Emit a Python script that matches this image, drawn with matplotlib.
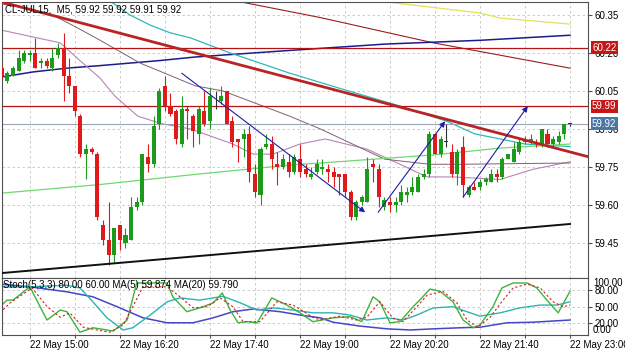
import matplotlib
matplotlib.use('Agg')
import matplotlib.pyplot as plt
from matplotlib import transforms

plt.rcParams['font.family'] = ['Liberation Sans', 'DejaVu Sans']
plt.rcParams['font.size'] = 7

symbol_title = 'CL-JUL15,  M5, 59.92 59.92 59.91 59.92'
stoch_title = 'Stoch(5,3,3) 80.00 60.00 MA(5) 59.874 MA(20) 59.790'

# M5 bars from 22 May 14:35 to 23:00 (index 0..101)
opens = [60.14, 60.09, 60.11, 60.13, 60.17, 60.19, 60.20, 60.16, 60.17, 60.14,
         60.19, 60.22, 60.11, 60.07, 59.95, 59.80, 59.82, 59.80, 59.52, 59.46,
         59.40, 59.52, 59.45, 59.46, 59.59, 59.61, 59.79, 59.76, 59.92, 60.07,
         59.99, 59.97, 59.84, 59.98, 59.95, 59.88, 59.97, 59.93, 60.02, 60.01,
         60.05, 59.93, 59.86, 59.86, 59.88, 59.72, 59.64, 59.83, 59.84, 59.76,
         59.75, 59.77, 59.73, 59.78, 59.74, 59.71, 59.73, 59.74, 59.74, 59.73,
         59.72, 59.72, 59.65, 59.55, 59.61, 59.61, 59.76, 59.74, 59.59, 59.61,
         59.60, 59.61, 59.64, 59.65, 59.65, 59.71, 59.72, 59.88, 59.80, 59.85,
         59.81, 59.72, 59.83, 59.64, 59.67, 59.67, 59.69, 59.69, 59.72, 59.71,
         59.78, 59.77, 59.81, 59.85, 59.85, 59.85, 59.84, 59.88, 59.84, 59.85,
         59.88, 59.92]
highs = [60.15, 60.13, 60.15, 60.21, 60.21, 60.21, 60.26, 60.18, 60.18, 60.22,
         60.24, 60.28, 60.18, 60.07, 59.96, 59.84, 59.83, 59.81, 59.54, 59.61,
         59.51, 59.52, 59.51, 59.63, 59.63, 59.80, 59.84, 59.95, 60.06, 60.11,
         60.04, 59.98, 60.03, 59.99, 59.96, 59.99, 60.05, 60.06, 60.05, 60.07,
         60.05, 59.95, 59.86, 59.90, 59.91, 59.76, 59.83, 59.88, 59.87, 59.81,
         59.80, 59.80, 59.80, 59.84, 59.76, 59.75, 59.78, 59.78, 59.76, 59.75,
         59.72, 59.72, 59.66, 59.62, 59.64, 59.79, 59.78, 59.76, 59.63, 59.63,
         59.63, 59.68, 59.67, 59.71, 59.72, 59.74, 59.89, 59.88, 59.87, 59.92,
         59.84, 59.82, 59.87, 59.68, 59.69, 59.70, 59.71, 59.74, 59.74, 59.79,
         59.80, 59.85, 59.86, 59.87, 59.88, 59.86, 59.90, 59.90, 59.87, 59.89,
         59.92, 59.92]
lows = [60.10, 60.08, 60.11, 60.13, 60.16, 60.17, 60.14, 60.14, 60.14, 60.13,
        60.18, 60.01, 60.04, 59.95, 59.79, 59.70, 59.80, 59.54, 59.44, 59.36,
        59.37, 59.42, 59.43, 59.46, 59.58, 59.60, 59.73, 59.75, 59.90, 59.97,
        59.95, 59.84, 59.83, 59.86, 59.83, 59.84, 59.91, 59.90, 59.98, 60.00,
        59.92, 59.83, 59.77, 59.79, 59.69, 59.63, 59.60, 59.82, 59.74, 59.68,
        59.74, 59.71, 59.72, 59.71, 59.71, 59.70, 59.72, 59.72, 59.69, 59.67,
        59.64, 59.63, 59.54, 59.54, 59.60, 59.61, 59.69, 59.59, 59.58, 59.57,
        59.57, 59.60, 59.61, 59.64, 59.65, 59.70, 59.71, 59.80, 59.79, 59.83,
        59.71, 59.68, 59.63, 59.63, 59.66, 59.66, 59.68, 59.69, 59.69, 59.70,
        59.78, 59.77, 59.80, 59.84, 59.84, 59.83, 59.83, 59.83, 59.83, 59.84,
        59.86, 59.91]
closes = [60.11, 60.12, 60.14, 60.18, 60.20, 60.20, 60.14, 60.17, 60.15, 60.18,
          60.22, 60.11, 60.07, 59.97, 59.80, 59.82, 59.81, 59.55, 59.46, 59.40,
          59.51, 59.46, 59.48, 59.59, 59.61, 59.80, 59.76, 59.91, 60.05, 59.99,
          59.96, 59.86, 59.98, 59.97, 59.89, 59.98, 59.92, 60.03, 60.02, 60.03,
          59.92, 59.85, 59.85, 59.88, 59.73, 59.65, 59.82, 59.84, 59.78, 59.75,
          59.78, 59.73, 59.79, 59.73, 59.72, 59.72, 59.76, 59.75, 59.73, 59.71,
          59.71, 59.65, 59.55, 59.61, 59.63, 59.74, 59.75, 59.63, 59.62, 59.60,
          59.61, 59.65, 59.65, 59.67, 59.71, 59.72, 59.88, 59.80, 59.86, 59.85,
          59.72, 59.81, 59.68, 59.67, 59.66, 59.69, 59.70, 59.72, 59.71, 59.78,
          59.80, 59.82, 59.85, 59.86, 59.86, 59.84, 59.90, 59.84, 59.86, 59.87,
          59.92, 59.92]

time_ticks = [5, 21, 37, 53, 69, 85, 101]
time_labels = ['22 May 15:00', '22 May 16:20', '22 May 17:40', '22 May 19:00',
               '22 May 20:20', '22 May 21:40', '22 May 23:00']
grid_x = list(range(5, 104, 8))
price_ticks = [59.45, 59.60, 59.75, 59.90, 60.05, 60.20, 60.35]
stoch_ticks = [80, 50, 20]

# moving averages on the price chart (bar index, price)
yellow_x = [68.1, 69.0, 85.0, 88.6, 101.0]
yellow_y = [60.41, 60.40, 60.358, 60.338, 60.314]
maroon_x = [41.0, 42.9, 56.6, 76.7, 101.0]
maroon_y = [60.41, 60.40, 60.34, 60.24, 60.14]
navy_x = [0.0, 5.6, 11.6, 17.5, 28.1, 34.4, 51.2, 68.1, 85.0, 101.0]
navy_y = [60.105, 60.125, 60.14, 60.15, 60.17, 60.184, 60.21, 60.235, 60.25, 60.27]
cyan_x = [19.6, 22.8, 26.4, 29.9, 33.5, 40.6, 51.2, 60.1, 70.8, 79.1, 84.1, 88.6, 93.0, 101.0]
cyan_y = [60.40, 60.35, 60.31, 60.28, 60.26, 60.20, 60.12, 60.06, 59.99, 59.93, 59.88, 59.86, 59.84, 59.83]
violet_x = [0.0, 10.4, 13.9, 17.5, 20.1, 24.2, 28.5, 33.5, 41.1, 44.7, 48.2, 53.0,
            57.5, 64.9, 70.8, 75.6, 80.2, 88.6, 94.4, 101.0]
violet_y = [60.29, 60.24, 60.17, 60.10, 60.03, 59.95, 59.92, 59.90, 59.84, 59.80, 59.80, 59.84,
            59.86, 59.82, 59.76, 59.71, 59.71, 59.70, 59.74, 59.77]
gray_x = [-0.3, 5.0, 9.5, 13.4, 17.5, 24.6, 34.4, 39.3, 51.2, 56.6, 68.1, 76.1, 81.5, 101.0]
gray_y = [60.395, 60.375, 60.345, 60.30, 60.25, 60.16, 60.07, 60.05, 59.95, 59.90, 59.78, 59.76, 59.76, 59.765]
lime_x = [0.0, 17.5, 34.4, 51.2, 56.6, 76.7, 88.6, 101.0]
lime_y = [59.646, 59.68, 59.72, 59.757, 59.765, 59.797, 59.824, 59.84]

# drawn objects
trend_red_x = [0.23, 104.2]
trend_red_y = [60.40, 59.79]
trend_black_x = [0.0, 101.0]
trend_black_y = [59.33, 59.524]
level_prices = [60.22, 59.99]
bid_price = 59.92
arrows = [((32.0, 60.12), (64.6, 59.57)),
          ((66.9, 59.57), (78.8, 59.93)),
          ((82.0, 59.63), (93.5, 59.99))]

# stochastic window
k_x = [-0.3, 0.94, 2.0, 5.0, 8.05, 10.4, 11.6, 13.9, 16.2, 18.7, 19.8, 22.3, 24.0, 25.1, 29.4,
       30.4, 32.9, 35.2, 37.6, 39.2, 40.6, 42.0, 43.6, 45.4, 48.0, 50.7, 53.0, 55.3, 58.9, 61.9,
       64.0, 66.0, 67.2, 69.0, 70.8, 73.1, 74.3, 76.1, 77.9, 80.2, 82.0, 83.8, 85.0, 87.3, 88.9,
       90.9, 93.4, 95.1, 96.9, 98.9, 101.0]
k_v = [50, 62, 62, 86, 26, 44, 41, 4, 12, 8, 6, 26, 93, 93, 93,
       68, 41, 48, 57, 75, 44, 21, 23, 21, 66, 53, 39, 23, 30, 32,
       23, 68, 59, 21, 23, 50, 62, 82, 78, 59, 26, 12, 17, 50, 84,
       93, 93, 84, 62, 39, 78]
d_x = [-0.3, 1.5, 5.4, 8.1, 10.4, 12.1, 14.5, 16.9, 19.2, 21.6, 23.3, 25.1, 29.4, 31.7, 34.0,
       36.5, 38.8, 41.1, 42.9, 45.9, 48.9, 51.8, 55.3, 56.6, 60.1, 63.1, 64.9, 67.2, 69.5, 71.3,
       73.8, 75.6, 78.4, 80.9, 82.7, 84.6, 86.8, 89.1, 90.9, 93.4, 95.7, 98.0, 99.8, 101.0]
d_v = [39, 57, 84, 50, 31, 39, 13, 8, 4, 17, 50, 86, 86, 68, 48,
       50, 66, 50, 23, 23, 59, 53, 31, 26, 33, 26, 31, 59, 30, 23,
       50, 71, 78, 57, 26, 13, 31, 62, 84, 91, 84, 59, 50, 53]
ma5_x = [-0.3, 5.0, 11.6, 13.9, 16.2, 18.7, 21.6, 23.3, 26.4, 29.4, 31.7, 35.2, 37.6, 39.3, 42.4,
         45.4, 48.2, 51.8, 55.3, 58.9, 61.9, 64.9, 68.5, 71.3, 73.8, 76.7, 80.2, 82.7, 85.0, 88.6,
         92.1, 95.7, 98.7, 101.0]
ma5_v = [86, 86, 89, 84, 59, 30, 8, 12, 35, 59, 66, 62, 66, 69, 57,
         44, 48, 44, 39, 39, 35, 26, 30, 26, 35, 48, 50, 41, 33, 39,
         48, 53, 53, 59]
ma20_x = [-0.3, 5.0, 11.6, 16.2, 21.0, 25.1, 29.4, 34.0, 37.6, 41.1, 44.7, 49.5, 53.0, 56.6,
          58.9, 63.7, 68.5, 72.6, 76.7, 81.5, 85.0, 89.8, 94.4, 101.0]
ma20_v = [91, 86, 77, 68, 48, 30, 21, 21, 30, 41, 46, 41, 35, 30,
          22, 15, 10, 8, 10, 12, 13, 21, 22, 26]

up_col = '#1c9a1c'
down_col = '#e01a1a'
grid_kw = dict(color='#c4c4c4', lw=0.6, ls=(0, (3, 3)))

fig = plt.figure(figsize=(6.25, 3.51), dpi=100)
ax = fig.add_axes([2 / 625, 1 - 278 / 351, 586 / 625, 276 / 351])
ax2 = fig.add_axes([2 / 625, 1 - 335 / 351, 586 / 625, 57 / 351], sharex=ax)

for a in (ax, ax2):
    for s in a.spines.values():
        s.set_color('#505050')
        s.set_linewidth(0.8)
    for gx in grid_x:
        a.axvline(gx, zorder=0, **grid_kw)

# price grid
for p in price_ticks:
    ax.axhline(p, zorder=0, **grid_kw)

# candles
for i in range(len(opens)):
    o, h, l, c = opens[i], highs[i], lows[i], closes[i]
    col = up_col if c > o else (down_col if c < o else '#303030')
    ax.vlines(i, l, h, color=col, lw=0.8, zorder=3)
    ax.bar(i, max(abs(c - o), 0.003), bottom=min(o, c), width=0.72,
           color=col, lw=0, zorder=4)

# indicators
ax.plot(yellow_x, yellow_y, color='#e2e25a', lw=0.9, zorder=2)
ax.plot(maroon_x, maroon_y, color='#9c1c1c', lw=0.8, zorder=2)
ax.plot(navy_x, navy_y, color='#1c1c8c', lw=1.1, zorder=2)
ax.plot(cyan_x, cyan_y, color='#30b8b8', lw=0.9, zorder=2)
ax.plot(violet_x, violet_y, color='#b884b8', lw=0.8, zorder=2)
ax.plot(gray_x, gray_y, color='#806070', lw=0.7, zorder=2)
ax.plot(lime_x, lime_y, color='#70d870', lw=0.9, zorder=2)

for lp in level_prices:
    ax.axhline(lp, color='#b41414', lw=0.9, zorder=2)
ax.axhline(bid_price, color='#9aa4bc', lw=0.8, zorder=2)
ax.plot(trend_red_x, trend_red_y, color='#b82424', lw=2.0, zorder=5)
ax.plot(trend_black_x, trend_black_y, color='#101010', lw=1.4, zorder=5)

for start, end in arrows:
    ax.annotate('', xy=end, xytext=start,
                arrowprops=dict(arrowstyle='-|>', color='#1c1caa', lw=0.8,
                                mutation_scale=8, shrinkA=0, shrinkB=0),
                zorder=6)

ax.set_xlim(0.055, 104.2)
ax.set_ylim(59.3105, 60.4014)
ax.yaxis.tick_right()
ax.set_yticks(price_ticks)
ax.set_yticklabels(['%.2f' % p for p in price_ticks])
ax.tick_params(axis='y', length=3, pad=2, labelsize=7, color='#505050')
ax.tick_params(axis='x', bottom=False, labelbottom=False)

# price tags on the axis
ytrans = transforms.blended_transform_factory(ax.transAxes, ax.transData)
for val, fc in [(60.22, '#c41818'), (59.99, '#c41818'), (59.92, '#4a76a4')]:
    ax.text(1.0 + 4 / 586, val, '%.2f' % val, transform=ytrans, color='white',
            fontsize=7, va='center', ha='left', clip_on=False, zorder=10,
            bbox=dict(boxstyle='square,pad=0.15', fc=fc, ec='none'))

ax.text(3 / 586, (278 - 9) / 276, symbol_title, transform=ax.transAxes,
        ha='left', va='center', fontsize=7, color='black', zorder=10)

# stochastic panel
for lv in stoch_ticks:
    ax2.axhline(lv, zorder=0, **grid_kw)
ax2.plot(ma20_x, ma20_v, color='#4646c8', lw=1.1)
ax2.plot(ma5_x, ma5_v, color='#2cb4b4', lw=1.0)
ax2.plot(k_x, k_v, color='#3cb43c', lw=1.0)
ax2.plot(d_x, d_v, color='#d02020', lw=0.8, ls=(0, (2, 2)))
ax2.set_ylim(-1.1, 102)
ax2.yaxis.tick_right()
ax2.set_yticks(stoch_ticks)
ax2.set_yticklabels(['%.2f' % v for v in stoch_ticks])
ax2.tick_params(axis='y', length=3, pad=2, labelsize=7, color='#505050')
s_trans = transforms.blended_transform_factory(ax2.transAxes, ax2.transData)
ax2.text(1.0 + 5 / 586, 93, '100.00', transform=s_trans, fontsize=7,
         va='center', ha='left', clip_on=False)
ax2.text(1.0 + 5 / 586, 8, '0.00', transform=s_trans, fontsize=7,
         va='center', ha='left', clip_on=False)
ax2.text(1 / 586, (335 - 285) / 57, stoch_title, transform=ax2.transAxes,
         ha='left', va='center', fontsize=7, color='black', zorder=10)

ax2.set_xticks(grid_x)
ax2.set_xticklabels([time_labels[time_ticks.index(g)] if g in time_ticks else '' for g in grid_x])
for lab in ax2.get_xticklabels():
    lab.set_ha('left')
ax2.tick_params(axis='x', length=2, pad=1.5, labelsize=7, color='#505050')

fig.savefig('out.png', dpi=100, facecolor='white')
